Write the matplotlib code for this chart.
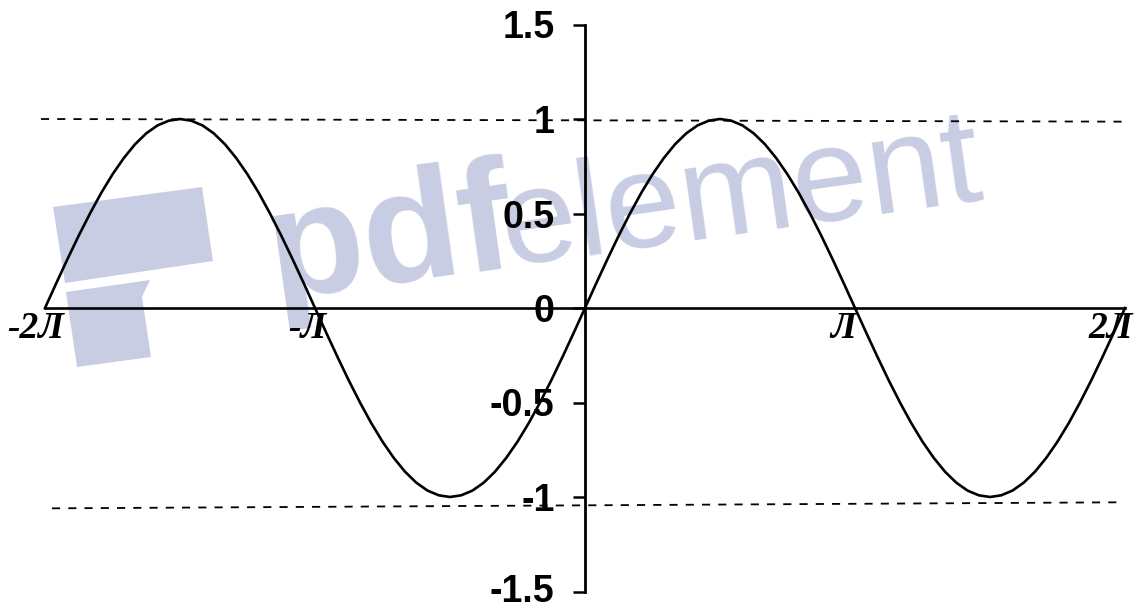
"""
Sine curve on [-2pi, 2pi] with guide lines at +/-1 (pdfelement page scan).
"""

import matplotlib.pyplot as plt
import matplotlib.patches as mpatches
import matplotlib.transforms as mtransforms
import numpy as np

# %%
# Curve read off the picture, sampled every pi/24 (x in units of pi)
x_pi = np.linspace(-2, 2, 97)
y_vals = [
    0.000, 0.131, 0.259, 0.383, 0.500, 0.609, 0.707, 0.793, 0.866, 0.924, 0.966, 0.991,
    1.000, 0.991, 0.966, 0.924, 0.866, 0.793, 0.707, 0.609, 0.500, 0.383, 0.259, 0.131,
    0.000, -0.131, -0.259, -0.383, -0.500, -0.609, -0.707, -0.793, -0.866, -0.924, -0.966, -0.991,
    -1.000, -0.991, -0.966, -0.924, -0.866, -0.793, -0.707, -0.609, -0.500, -0.383, -0.259, -0.131,
    0.000, 0.131, 0.259, 0.383, 0.500, 0.609, 0.707, 0.793, 0.866, 0.924, 0.966, 0.991,
    1.000, 0.991, 0.966, 0.924, 0.866, 0.793, 0.707, 0.609, 0.500, 0.383, 0.259, 0.131,
    0.000, -0.131, -0.259, -0.383, -0.500, -0.609, -0.707, -0.793, -0.866, -0.924, -0.966, -0.991,
    -1.000, -0.991, -0.966, -0.924, -0.866, -0.793, -0.707, -0.609, -0.500, -0.383, -0.259, -0.131,
    0.000,
]

# dashed guide lines (hand drawn, slightly tilted)
guide_top_x = [-2.015, 1.993]
guide_top_y = [1.0, 0.986]
guide_bot_x = [-1.974, 1.989]
guide_bot_y = [-1.06, -1.028]

y_ticks = [-1.5, -1, -0.5, 0, 0.5, 1, 1.5]
y_ticklabels = ["-1.5", "-1", "-0.5", "0", "0.5", "1", "1.5"]
x_labels = ["-2Л", "-Л", "Л", "2Л"]

# %%
W, H = 1141, 612
fig = plt.figure(figsize=(W / 100, H / 100), dpi=100)
ax = fig.add_axes([45 / W, 20.5 / H, 1080 / W, 567 / H])
ax.set_facecolor("none")


def px(x, y):
    # pixel position (from top-left) -> figure fraction
    return (x / W, 1 - y / H)


# watermark, under everything else
wm = "#c8cde4"
fig.patches.append(mpatches.Polygon(
    [px(53, 207), px(202, 187), px(213, 261), px(65, 283)],
    closed=True, transform=fig.transFigure, color=wm, lw=0, zorder=-2))
fig.patches.append(mpatches.Polygon(
    [px(66, 292), px(150, 280), px(142, 297), px(151, 357), px(77, 367)],
    closed=True, transform=fig.transFigure, color=wm, lw=0, zorder=-2))
fig.text(*px(274, 298), "pdf", rotation=8, rotation_mode="anchor",
         ha="left", va="baseline", fontsize=114, weight="bold",
         family="Liberation Sans", color=wm, zorder=-2)
fig.text(*px(506, 266), "element", rotation=8, rotation_mode="anchor",
         ha="left", va="baseline", fontsize=98, weight="light",
         family="Liberation Sans", color=wm, zorder=-2)

# %%
ax.plot(x_pi, y_vals, color="black", lw=1.9, clip_on=False, zorder=3)
ax.plot(guide_top_x, guide_top_y, color="black", lw=1.3,
        dashes=(4.5, 4.5), clip_on=False)
ax.plot(guide_bot_x, guide_bot_y, color="black", lw=1.3,
        dashes=(4.5, 4.5), clip_on=False)

ax.set_xlim(-2, 2)
ax.set_ylim(-1.5, 1.5)

for side in ["top", "right"]:
    ax.spines[side].set_visible(False)
ax.spines["left"].set_position(("data", 0))
ax.spines["bottom"].set_position(("data", 0))
ax.spines["left"].set_linewidth(2.0)
ax.spines["bottom"].set_linewidth(1.9)

ax.set_xticks([])
ax.set_yticks(y_ticks)
ax.set_yticklabels(y_ticklabels, fontsize=27, fontweight="bold",
                   family="Liberation Sans")
ax.tick_params(axis="y", direction="out", length=9, width=1.8, pad=13)
# lowest label sits on the page edge; nudge it up a touch so it isn't cut
lowest = ax.get_yticklabels()[0]
lowest.set_transform(lowest.get_transform() + mtransforms.ScaledTranslation(
    0, 3 / 100, fig.dpi_scale_trans))

# pi labels under the axis
label_x = [-2.033, -1.030, 0.956, 1.948]
for xp, lab in zip(label_x, x_labels):
    ax.text(xp, -0.11, lab, ha="center", va="center", fontsize=27,
            fontweight="bold", fontstyle="italic", family="Liberation Serif",
            clip_on=False)

fig.savefig("out.png", dpi=100)
